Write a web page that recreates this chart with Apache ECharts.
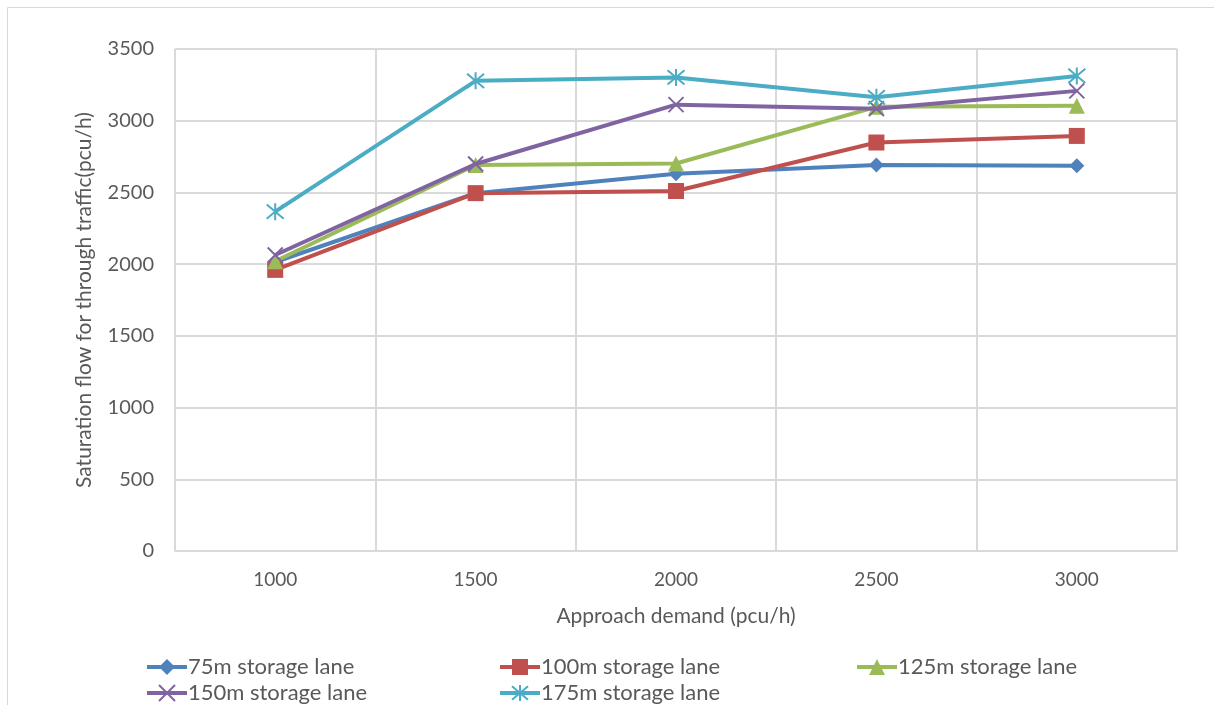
<!DOCTYPE html>
<html><head><meta charset="utf-8">
<script src="https://cdn.jsdelivr.net/npm/echarts@6/dist/echarts.min.js"></script>
<style>html,body{margin:0;padding:0;background:#fff}#c{width:1214px;height:705px}</style>
</head><body><div id="c"></div>
<script>
const categories = ['1000','1500','2000','2500','3000'];
const s75 = [2015, 2495, 2630, 2692, 2686];
const s100 = [1960, 2495, 2510, 2848, 2894];
const s125 = [2020, 2692, 2702, 3097, 3105];
const s150 = [2064, 2698, 3112, 3084, 3208];
const s175 = [2366, 3278, 3302, 3163, 3312];
const seriesNames = ['75m storage lane','100m storage lane','125m storage lane','150m storage lane','175m storage lane'];
const yTicks = [0, 500, 1000, 1500, 2000, 2500, 3000, 3500];

const colors = ['#4F81BD','#C0504D','#9BBB59','#8064A2','#4BACC6'];
const xPath = 'path://M0,0L10,10M10,0L0,10';
const starPath = 'path://M5,0L5,10M0.8,0.8L9.2,9.2M9.2,0.8L0.8,9.2';
const data = [s75, s100, s125, s150, s175];
const symbols = ['diamond','rect','triangle', xPath, starPath];
const sizes = [15, 16, 16, 15, 17];
const font = 'Lato, Open Sans, sans-serif';

const series = data.map((d, i) => {
  const stroked = i >= 3;
  return {
    name: seriesNames[i], type: 'line', data: d,
    symbol: symbols[i], symbolSize: sizes[i], showAllSymbol: true,
    lineStyle: {width: 4, color: colors[i]},
    itemStyle: stroked ? {color: 'rgba(0,0,0,0)', borderColor: colors[i], borderWidth: 2} : {color: colors[i]},
    color: colors[i],
    z: 2 + i
  };
});

const legendPos = [[145,656],[498,656],[855,656],[145,682],[498,682]];
const legends = seriesNames.map((n, i) => ({
  data: [n], left: legendPos[i][0], top: legendPos[i][1],
  itemWidth: 40, itemHeight: 20, itemGap: 0,
  lineStyle: {width: 4},
  textStyle: {fontFamily: font, fontSize: 22, color: '#595959', padding: [0,0,0,-4]},
  padding: 0
}));

const chart = echarts.init(document.getElementById('c'), null, {renderer: 'canvas'});
chart.setOption({
  animation: false,
  color: colors,
  grid: {left: 175, right: 37, top: 49, bottom: 154},
  graphic: [{type: 'rect', shape: {x: 7.5, y: 7.5, width: 1220, height: 720}, style: {fill: 'none', stroke: '#D9D9D9', lineWidth: 1}, silent: true}],
  legend: legends,
  xAxis: {
    type: 'category', data: categories, boundaryGap: true,
    name: 'Approach demand (pcu/h)', nameLocation: 'middle', nameGap: 55,
    nameTextStyle: {fontFamily: font, fontSize: 21, color: '#595959'},
    axisLine: {lineStyle: {color: '#D9D9D9', width: 1}},
    axisTick: {show: false},
    axisLabel: {fontFamily: font, fontSize: 19, color: '#595959', margin: 19},
    splitLine: {show: true, lineStyle: {color: '#D9D9D9', width: 2}}
  },
  yAxis: {
    type: 'value', min: yTicks[0], max: yTicks[yTicks.length-1], interval: 500,
    name: 'Saturation flow for through traffic(pcu/h)', nameLocation: 'middle', nameGap: 80,
    nameTextStyle: {fontFamily: font, fontSize: 21, color: '#595959'},
    axisLine: {show: false}, axisTick: {show: false},
    axisLabel: {fontFamily: font, fontSize: 20, color: '#595959', margin: 21, formatter: v => String(v)},
    splitLine: {lineStyle: {color: '#D9D9D9', width: 2}}
  },
  series: series
});
</script></body></html>
